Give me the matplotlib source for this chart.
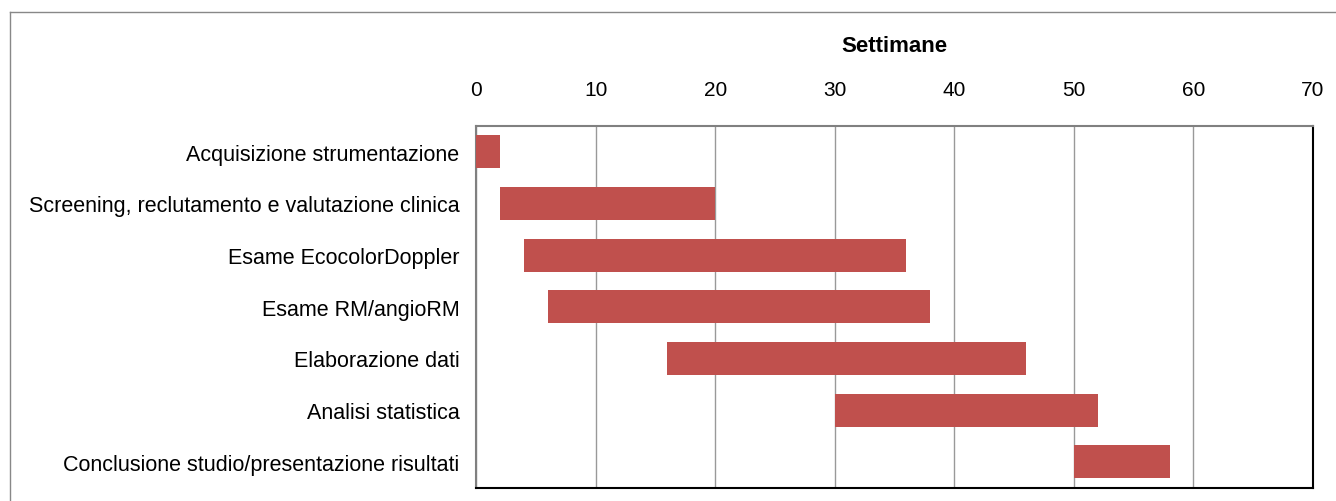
import matplotlib
matplotlib.use("Agg")
import matplotlib.pyplot as plt
from matplotlib.lines import Line2D

plt.rcParams['font.family'] = ['Liberation Sans', 'DejaVu Sans']

tasks = ["Acquisizione strumentazione",
         "Screening, reclutamento e valutazione clinica",
         "Esame EcocolorDoppler",
         "Esame RM/angioRM",
         "Elaborazione dati",
         "Analisi statistica",
         "Conclusione studio/presentazione risultati"]
starts = [0, 2, 4, 6, 16, 30, 50]
ends = [2, 20, 36, 38, 46, 52, 58]
xticks = [0, 10, 20, 30, 40, 50, 60, 70]

W, H = 1336, 502
fig = plt.figure(figsize=(W/100, H/100), dpi=100)
ax = fig.add_axes([476/W, 1-488.5/H, (1313-476)/W, (488.5-127)/H])

durations = [e - s for s, e in zip(starts, ends)]
ypos = list(range(len(tasks)))
ax.barh(ypos, durations, left=starts, height=0.64, color='#C0504D', zorder=3)
ax.set_ylim(len(tasks)-0.5, -0.5)
ax.set_xlim(0, 70)
ax.set_yticks(ypos)
ax.set_yticklabels(tasks, fontsize=15.5)
ax.set_xticks(xticks)
ax.xaxis.tick_top()
ax.xaxis.set_label_position('top')
ax.set_xlabel("Settimane", fontsize=16, fontweight='bold', labelpad=20.5)
ax.tick_params(axis='x', labelsize=15, length=0, pad=19.5)
ax.tick_params(axis='y', length=0, pad=12)
ax.grid(axis='x', color='#999999', linewidth=1, zorder=0)
ax.spines['top'].set_color('#808080')
ax.spines['left'].set_color('#808080')
ax.spines['top'].set_linewidth(1.5)
ax.spines['left'].set_linewidth(1.5)
ax.spines['right'].set_color('black')
ax.spines['bottom'].set_color('black')
ax.spines['right'].set_linewidth(1.5)
ax.spines['bottom'].set_linewidth(1.5)

# outer border
fig.add_artist(Line2D([9.5/W, 9.5/W], [0, 1-13/H], transform=fig.transFigure, color='#888888', lw=1))
fig.add_artist(Line2D([9.5/W, 1], [1-13/H, 1-13/H], transform=fig.transFigure, color='#888888', lw=1))

fig.savefig("out.png", dpi=100)
